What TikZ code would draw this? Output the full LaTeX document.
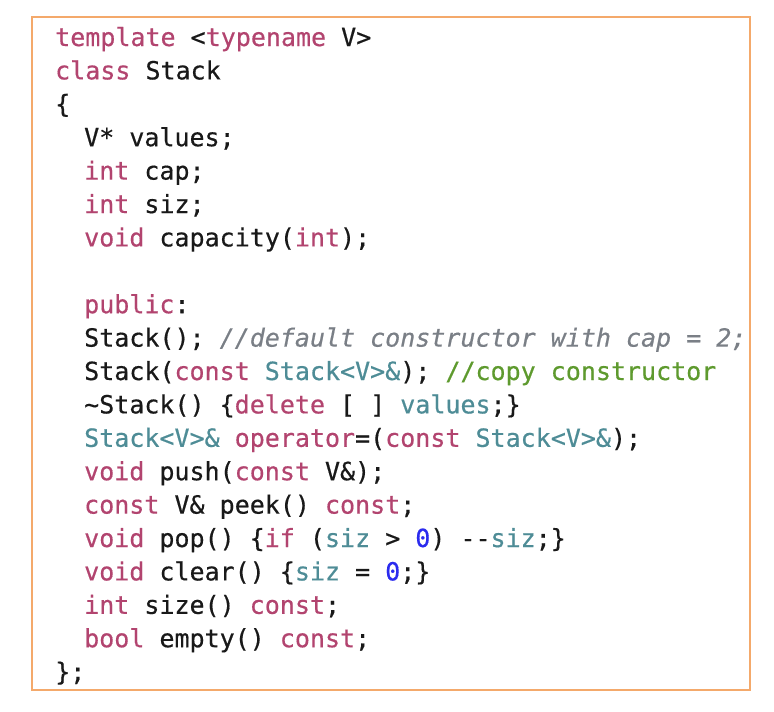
\documentclass[tikz,border=0pt]{standalone}
\usepackage{fontspec}
\newfontfamily\cf[FakeBold=0.5]{DejaVu Sans Mono}
\definecolor{kw}{HTML}{B2446F}
\definecolor{ty}{HTML}{4E8C96}
\definecolor{cm}{HTML}{7A7F86}
\definecolor{gc}{HTML}{5E9A2E}
\definecolor{nu}{HTML}{2B2BEE}
\definecolor{frame}{HTML}{F4A96B}
\newcommand{\K}[1]{\textcolor{kw}{#1}}
\newcommand{\T}[1]{\textcolor{ty}{#1}}
\begin{document}
\begin{tikzpicture}[x=1pt,y=-1pt,
  ln/.style={anchor=base west,inner sep=0pt,font=\cf\fontsize{25}{25}\selectfont,text=black!90}]
\useasboundingbox (0,0) rectangle (774,712);
\draw[frame,line width=1.3pt] (32,17) rectangle (750,690);
\def\p{33.4}
\node[ln] (l1) at (55,46) {\K{template} <\K{typename} V>};
\node[ln] (l2) at (55,46+\p) {\K{class} Stack};
\node[ln] (l3) at (55,46+2*\p) {\{};
\node[ln] (l4) at (84,46+3*\p) {V* values;};
\node[ln] (l5) at (84,46+4*\p) {\K{int} cap;};
\node[ln] (l6) at (84,46+5*\p) {\K{int} siz;};
\node[ln] (l7) at (84,46+6*\p) {\K{void} capacity(\K{int});};
\node[ln] (l9) at (84,46+8*\p) {\K{public}:};
\node[ln] (l10) at (84,46+9*\p) {Stack(); \textcolor{cm}{\itshape //default constructor with cap = 2;}};
\node[ln] (l11) at (84,46+10*\p) {Stack(\K{const} \T{Stack<V>\&}); \textcolor{gc}{//copy constructor}};
\node[ln] (l12) at (84,46+11*\p) {\textasciitilde Stack() \{\K{delete} [ ] \T{values};\}};
\node[ln] (l13) at (84,46+12*\p) {\T{Stack<V>\&} \K{operator}=(\K{const} \T{Stack<V>\&});};
\node[ln] (l14) at (84,46+13*\p) {\K{void} push(\K{const} V\&);};
\node[ln] (l15) at (84,46+14*\p) {\K{const} V\& peek() \K{const};};
\node[ln] (l16) at (84,46+15*\p) {\K{void} pop() \{\K{if} (\T{siz} > \textcolor{nu}{0}) -{}-\T{siz};\}};
\node[ln] (l17) at (84,46+16*\p) {\K{void} clear() \{\T{siz} = \textcolor{nu}{0};\}};
\node[ln] (l18) at (84,46+17*\p) {\K{int} size() \K{const};};
\node[ln] (l19) at (84,46+18*\p) {\K{bool} empty() \K{const};};
\node[ln] (l20) at (55,46+19*\p) {\};};
\end{tikzpicture}
\end{document}
